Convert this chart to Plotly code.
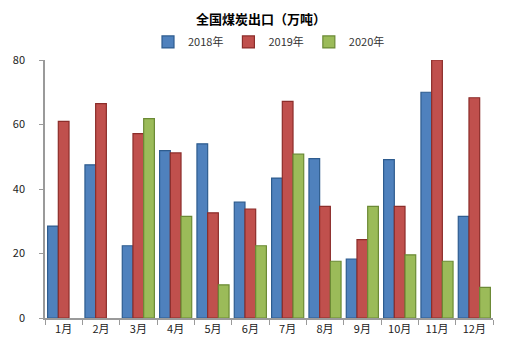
import plotly.graph_objects as go

months = ["1月", "2月", "3月", "4月", "5月", "6月", "7月", "8月", "9月", "10月", "11月", "12月"]
y2018 = [28.5, 47.5, 22.4, 51.9, 54.0, 35.9, 43.4, 49.4, 18.3, 49.1, 70.0, 31.5]
y2019 = [61.0, 66.5, 57.2, 51.2, 32.6, 33.8, 67.2, 34.6, 24.3, 34.6, 80.0, 68.3]
y2020 = [None, None, 61.8, 31.5, 10.3, 22.4, 50.8, 17.6, 34.6, 19.6, 17.6, 9.5]

series = [
    ("2018年", y2018, "#4F81BD", "#2E5C8F"),
    ("2019年", y2019, "#C0504D", "#8C2D2A"),
    ("2020年", y2020, "#9BBB59", "#6B8A35"),
]

fig = go.Figure()
for name, vals, col, edge in series:
    fig.add_trace(go.Bar(
        x=months, y=vals, name=name,
        marker=dict(color=col, line=dict(color=edge, width=1.2)),
    ))

font = "Noto Sans CJK SC, Microsoft YaHei, sans-serif"
fig.update_layout(
    width=506, height=357,
    margin=dict(l=37, r=21, t=52, b=47),
    paper_bgcolor="white", plot_bgcolor="white",
    barmode="group", bargap=0.14, bargroupgap=0.0,
    font=dict(family=font, size=11, color="#222"),
    title=dict(text="<b>全国煤炭出口（万吨）</b>", x=0.5, xanchor="center",
               yref="container", y=1, yanchor="top", pad=dict(t=7),
               font=dict(size=13, color="#000")),
    legend=dict(orientation="h", x=0.5, xanchor="center", y=1.07, yanchor="middle",
                font=dict(size=11, color="#333"), itemwidth=30, traceorder="normal"),
    showlegend=True,
)
fig.update_xaxes(showline=True, linecolor="#9a9a9a", linewidth=1.5,
                 ticks="outside", tickson="boundaries", ticklen=5, tickcolor="#9a9a9a",
                 showgrid=False, automargin=False, tickfont=dict(size=11, color="#222"))
fig.update_yaxes(range=[0, 80], dtick=20, showline=True, linecolor="#9a9a9a", linewidth=1.5,
                 ticks="outside", ticklen=4, tickcolor="#9a9a9a", showgrid=False,
                 ticklabelstandoff=12, automargin=False,
                 zeroline=False, tickfont=dict(size=11, color="#222"))

fig.write_html("out.html")
